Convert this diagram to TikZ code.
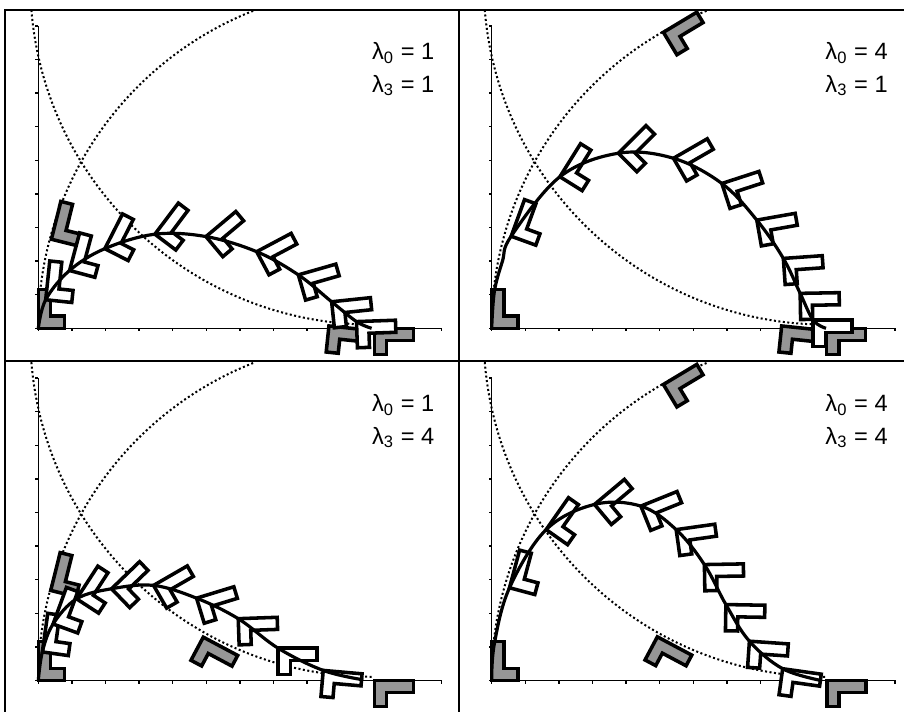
\documentclass[tikz,border=0pt]{standalone}
\usepackage{fontspec}
\setmainfont{Liberation Sans}
\definecolor{shadegray}{RGB}{150,150,150}

\tikzset{
  lpiece/.pic={
    \path[pic actions] (0,0) -- (0.78,0) -- (0.78,0.36) -- (0.36,0.36)
      -- (0.36,1.16) -- (0,1.16) -- cycle;
  }
}

% axes, ticks and the two dotted arcs, same in every panel
\newcommand{\panelaxes}{%
  \draw[axisline] (0,9) -- (0,0) -- (12,0);
  \foreach \i in {0,...,12} \draw[axisline] (\i,0) -- (\i,-0.09);
  \foreach \j in {0,...,9} \draw[axisline] (0,\j) -- (-0.09,\j);
  \draw[guide] (0,0.04) arc[start angle=180, end angle=111.2, radius=10.12];
  \draw[guide] (-0.206,9.473) arc[start angle=184.66, end angle=270, radius=10.19];
}

\begin{document}
\begin{tikzpicture}[x=0.5cm, y=0.5cm,
  axisline/.style={line width=0.55pt},
  guide/.style={line width=0.85pt, dash pattern=on 0.85pt off 1.05pt},
  traj/.style={line width=1.35pt},
  lwhite/.style={draw, fill=white, line width=1.5pt, line join=miter},
  lgray/.style={draw, fill=shadegray, line width=1.5pt, line join=miter},
  frameline/.style={line width=0.9pt},
  lamtext/.style={anchor=base east, inner sep=0pt, font=\fontsize{10}{12}\selectfont}
]
  \useasboundingbox (0,0) rectangle (26.905,21.161);
  \clip (0,0) rectangle (26.905,21.161);

  % frame
  \draw[frameline] (0.149,-1) |- (28,20.863);
  \draw[frameline] (13.661,-1) -- (13.661,20.863);
  \draw[frameline] (0.149,10.417) -- (28,10.417);

  % top left
  \begin{scope}[shift={(1.140,11.390)}]
    \panelaxes
    \foreach \x/\y/\a in {0/0/0, 0.39/2.65/-14, 8.65/0.07/-96, 10/0/-90}
      \pic[lgray, rotate=\a] at (\x,\y) {lpiece};
    \foreach \x/\y/\a in {0.22/0.85/-6, 0.93/1.72/-15, 1.98/2.37/-27, 3.47/2.80/-37,
        4.99/2.73/-50, 6.50/2.28/-62, 7.74/1.59/-74, 8.73/0.79/-84, 9.47/0.20/-88}
      \pic[lwhite, rotate=\a] at (\x,\y) {lpiece};
    \draw[traj] plot[smooth, tension=0.6] coordinates {(0,0) (0.22,0.85) (0.93,1.72)
      (1.98,2.37) (3.47,2.80) (4.99,2.73) (6.50,2.28) (7.74,1.59) (8.73,0.79)
      (9.47,0.20) (9.92,0)};
    \node[lamtext] (tlA) at (11.8,8.0) {λ\textsubscript{0} = 1};
    \node[lamtext] (tlB) at (11.8,7.03) {λ\textsubscript{3} = 1};
  \end{scope}

  % top right
  \begin{scope}[shift={(14.634,11.390)}]
    \panelaxes
    \foreach \x/\y/\a in {0/0/0, 5.11/8.81/-59, 8.63/0.07/-96, 9.97/0/-90}
      \pic[lgray, rotate=\a] at (\x,\y) {lpiece};
    \foreach \x/\y/\a in {0.58/2.74/-20, 2.03/4.51/-32, 3.77/5.21/-45, 5.41/5.06/-60,
        6.85/4.31/-72, 7.89/3.22/-80, 8.68/2.08/-86, 9.18/1.04/-89, 9.57/0.24/-90}
      \pic[lwhite, rotate=\a] at (\x,\y) {lpiece};
    \draw[traj] plot[smooth, tension=0.6] coordinates {(0,0) (0.08,1.1) (0.32,2.0)
      (0.58,2.74) (2.03,4.51) (3.77,5.21) (5.41,5.06) (6.85,4.31) (7.89,3.22)
      (8.68,2.08) (9.18,1.04) (9.57,0.24) (9.95,0)};
    \node[lamtext] (trA) at (11.8,8.0) {λ\textsubscript{0} = 4};
    \node[lamtext] (trB) at (11.8,7.03) {λ\textsubscript{3} = 1};
  \end{scope}

  % bottom left
  \begin{scope}[shift={(1.140,0.908)}]
    \panelaxes
    \foreach \x/\y/\a in {0/0/0, 0.37/2.68/-14, 4.91/1.29/-118, 10/0/-90}
      \pic[lgray, rotate=\a] at (\x,\y) {lpiece};
    \foreach \x/\y/\a in {0.12/0.85/-8, 0.44/1.68/-20, 1.14/2.43/-33, 2.18/2.73/-46,
        3.43/2.83/-60, 4.71/2.45/-73, 5.95/1.84/-88, 7.14/0.96/-90, 8.48/0.30/-95}
      \pic[lwhite, rotate=\a] at (\x,\y) {lpiece};
    \draw[traj] plot[smooth, tension=0.6] coordinates {(0,0) (0.12,0.85) (0.44,1.68)
      (1.14,2.43) (2.18,2.73) (3.43,2.83) (4.71,2.45) (5.95,1.84) (7.14,0.96)
      (8.48,0.30) (9.67,0.02)};
    \node[lamtext] (blA) at (11.8,8.0) {λ\textsubscript{0} = 1};
    \node[lamtext] (blB) at (11.8,7.03) {λ\textsubscript{3} = 4};
  \end{scope}

  % bottom right
  \begin{scope}[shift={(14.634,0.908)}]
    \panelaxes
    \foreach \x/\y/\a in {0/0/0, 5.11/8.81/-59, 4.93/1.30/-118, 9.98/0/-90}
      \pic[lgray, rotate=\a] at (\x,\y) {lpiece};
    \foreach \x/\y/\a in {0.53/2.76/-15, 1.62/4.49/-35, 3.06/5.24/-50, 4.44/5.19/-68,
        5.49/4.49/-82, 6.33/3.45/-89, 6.97/2.26/-91, 7.67/1.17/-94, 8.66/0.35/-98}
      \pic[lwhite, rotate=\a] at (\x,\y) {lpiece};
    \draw[traj] plot[smooth, tension=0.6] coordinates {(0,0) (0.08,1.1) (0.53,2.76)
      (1.62,4.49) (3.06,5.24) (4.44,5.19) (5.49,4.49) (6.33,3.45) (6.97,2.26)
      (7.67,1.17) (8.66,0.35) (9.8,0)};
    \node[lamtext] (brA) at (11.8,8.0) {λ\textsubscript{0} = 4};
    \node[lamtext] (brB) at (11.8,7.03) {λ\textsubscript{3} = 4};
  \end{scope}
\end{tikzpicture}
\end{document}
